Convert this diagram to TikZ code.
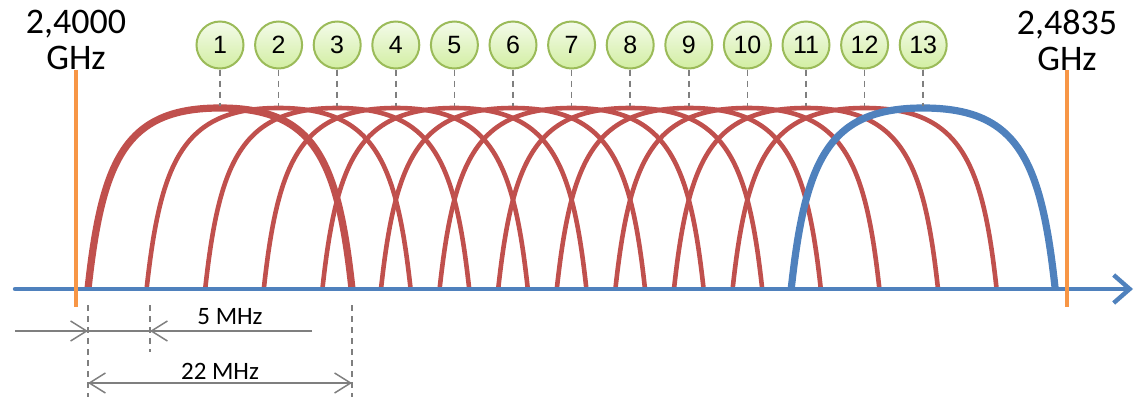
\documentclass[tikz,border=0pt]{standalone}
\usepackage{fontspec}
\setmainfont{Carlito}
\newfontfamily\chfont{Liberation Sans}
\usetikzlibrary{arrows.meta,positioning}
\definecolor{chred}{HTML}{C0504D}
\definecolor{chblue}{HTML}{4F81BD}
\definecolor{band}{HTML}{F79646}
\definecolor{chgreen}{HTML}{9BBB59}
\definecolor{chtop}{HTML}{F4FBEA}
\definecolor{chbot}{HTML}{D2EEA2}
\definecolor{dimgray}{HTML}{7F7F7F}
\tikzset{
  chan/.style={circle,draw=chgreen,line width=1pt,top color=chtop,bottom color=chbot,
    minimum size=23.5pt,inner sep=0pt,font=\chfont\fontsize{12.5}{14}\selectfont},
  freq/.style={align=center,font=\fontsize{18}{18}\selectfont},
  dimtext/.style={font=\fontsize{12.5}{14}\selectfont},
  guide/.style={dimgray,line width=0.75pt,dash pattern=on 3pt off 2.5pt},
  dimline/.style={dimgray,line width=0.75pt},
  dimtip/.style={-{Straight Barb[length=8pt,width=10pt]}},
  redcurve/.style={chred,line width=2.3pt},
  bandedge/.style={band,line width=2pt}
}
% spectral mask of one channel, centre #1 (px)
\newcommand\chmask[1]{(#1-132,289) .. controls (#1-118,160) and (#1-95,108) .. (#1,108)
  .. controls (#1+95,108) and (#1+118,160) .. (#1+132,289)}

\begin{document}
\begin{tikzpicture}[x=0.5pt,y=-0.5pt]
    \useasboundingbox (0,0) rectangle (1142,397);

    % Channel spectra 2..12
    \foreach \i in {2,...,12} {
      \pgfmathsetmacro\c{220+58.6*(\i-1)}
      \draw[redcurve] \chmask{\c};
    }
    % Channel 1
    \draw[chred,line width=3.6pt] \chmask{220};
    % Channel 13
    \pgfmathsetmacro\c{220+58.6*12}
    \draw[chblue,line width=3.6pt] \chmask{\c};

    % Frequency axis
    \coordinate (ax0) at (15,289);
    \coordinate (ax1) at (1133,289);
    \draw[chblue,line width=2.2pt,line cap=round,-{Straight Barb[length=8pt,width=14pt]}] (ax0) -- (ax1);

    % Band edges
    \node[freq] (lo) at (76,40) {2,4000\\GHz};
    \node[freq] (hi) at (1067,40) {2,4835\\GHz};
    \coordinate (lotop) at (76,70);
    \coordinate (lobot) at (76,307);
    \coordinate (hitop) at (1067,70);
    \coordinate (hibot) at (1067,307);
    \draw[bandedge] (lotop) -- (lobot);
    \draw[bandedge] (hitop) -- (hibot);

    % Channel numbers
    \coordinate (peak) at (0,106);
    \foreach \i in {1,...,13} {
      \node[chan] (c\i) at ({220+58.6*(\i-1)},45) {\i};
      \draw[guide] (c\i.south) -- (c\i.south |- peak);
    }

    % Spacing and width
    \coordinate (f1) at (88,305);
    \coordinate (f1b) at (88,397);
    \coordinate (f2) at (150,305);
    \coordinate (f2b) at (150,352);
    \coordinate (f3) at (352,305);
    \coordinate (f3b) at (352,397);
    \draw[guide] (f1) -- (f1b);
    \draw[guide] (f2) -- (f2b);
    \draw[guide] (f3) -- (f3b);

    \coordinate (s0) at (15,331);
    \coordinate (s1) at (88,331);
    \coordinate (s2) at (150,331);
    \coordinate (s3) at (312,331);
    \draw[dimline,dimtip] (s0) -- (s1);
    \draw[dimline] (s1) -- (s2);
    \draw[dimline,dimtip] (s3) -- (s2);
    \node[dimtext] (five) at (230,317) {5 MHz};

    \coordinate (w1) at (88,383);
    \coordinate (w2) at (352,383);
    \draw[dimline,{Straight Barb[length=8pt,width=10pt]}-{Straight Barb[length=8pt,width=10pt]}] (w1) -- (w2);
    \node[dimtext] (width) at (220,371) {22 MHz};
\end{tikzpicture}
\end{document}
